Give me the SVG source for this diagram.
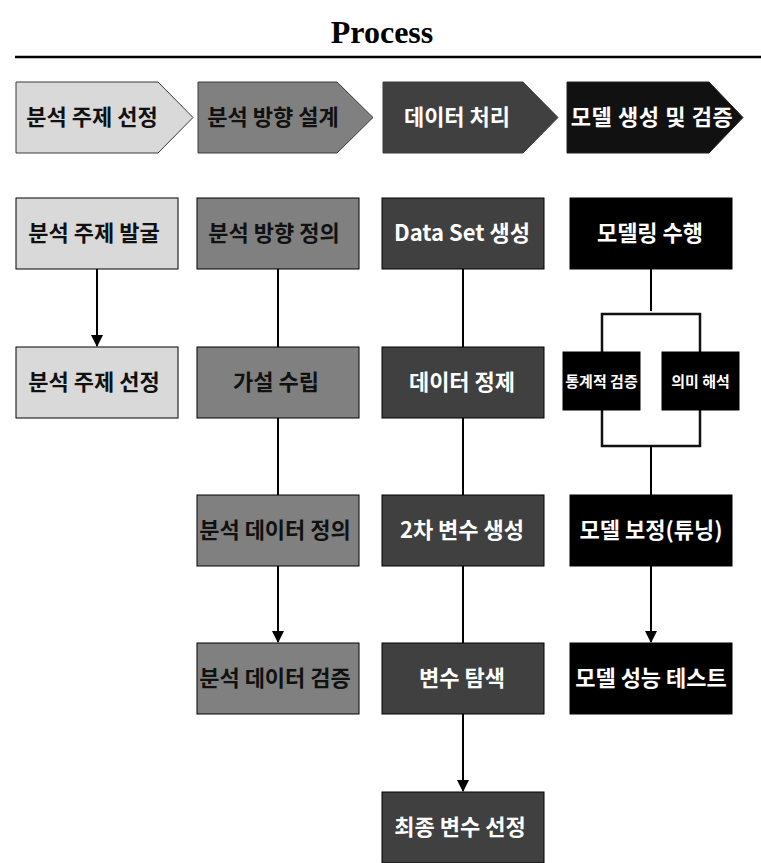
<svg xmlns="http://www.w3.org/2000/svg" width="761" height="863" viewBox="0 0 761 863">
<defs>
<marker id="ah" markerWidth="12" markerHeight="12" refX="11" refY="6" orient="auto" markerUnits="userSpaceOnUse">
<path d="M0,0 L12,6 L0,12 Z" fill="#000"/>
</marker>
<style>
.t{font-family:"Noto Sans CJK KR","Noto Sans",sans-serif;font-weight:bold;font-size:22px;text-anchor:middle}
.s{font-size:15px}
.dk{fill:#111}
.wt{fill:#fff}
.c1{fill:#d9d9d9;stroke:#000;stroke-width:1}
.c2{fill:#808080;stroke:#000;stroke-width:1}
.c3{fill:#404040;stroke:#000;stroke-width:1}
.c4{fill:#000;stroke:#000;stroke-width:1}
.ch{stroke:#3a3a3a;stroke-width:1}
.ln{fill:none;stroke:#000;stroke-width:2}
.br{fill:none;stroke:#111;stroke-width:2.5}
</style>
</defs>
<rect width="761" height="863" fill="#fff"/>
<text x="382" y="43" font-family="'Liberation Serif',serif" font-weight="bold" font-size="32" text-anchor="middle">Process</text>
<line x1="15" y1="57" x2="761" y2="57" stroke="#000" stroke-width="2.5"/>

<g id="ch1"><path class="c1 ch" d="M16,82 H158 L193,117.5 L158,153 H16 Z"/><text class="t dk" x="92" y="125">분석 주제 선정</text></g>
<g id="ch2"><path class="c2 ch" d="M198,82 H337 L373,117.5 L337,153 H198 Z"/><text class="t dk" x="273" y="125">분석 방향 설계</text></g>
<g id="ch3"><path class="c3 ch" d="M383,82 H523 L558,117.5 L523,153 H383 Z"/><text class="t wt" x="457" y="125">데이터 처리</text></g>
<g id="ch4"><path d="M567,82 H709 L743,117.5 L709,153 H567 Z" fill="#111" stroke="#222" stroke-width="1"/><text class="t wt" x="652" y="125" letter-spacing="0.6">모델 생성 및 검증</text></g>

<g id="connectors">
<line class="ln" x1="97" y1="269" x2="97" y2="346" marker-end="url(#ah)"/>
<line class="ln" x1="278" y1="269" x2="278" y2="347"/>
<line class="ln" x1="278" y1="417" x2="278" y2="495"/>
<line class="ln" x1="278" y1="566" x2="278" y2="642" marker-end="url(#ah)"/>
<line class="ln" x1="463" y1="269" x2="463" y2="347"/>
<line class="ln" x1="463" y1="417" x2="463" y2="495"/>
<line class="ln" x1="463" y1="566" x2="463" y2="643"/>
<line class="ln" x1="463" y1="714" x2="463" y2="791" marker-end="url(#ah)"/>
<line class="ln" x1="651" y1="269" x2="651" y2="311"/>
<path class="br" d="M602,352 V314 H700 V352"/>
<path class="br" d="M602,410 V446 H700 V410"/>
<line class="ln" x1="651" y1="446" x2="651" y2="495"/>
<line class="ln" x1="651" y1="566" x2="651" y2="642" marker-end="url(#ah)"/>
</g>

<g id="n1"><rect class="c1" x="16" y="198" width="162" height="71"/><text class="t dk" x="94" y="241">분석 주제 발굴</text></g>
<g id="n2"><rect class="c1" x="16" y="347" width="162" height="71"/><text class="t dk" x="94" y="390">분석 주제 선정</text></g>

<g id="n3"><rect class="c2" x="197" y="198" width="162" height="71"/><text class="t dk" x="274" y="241">분석 방향 정의</text></g>
<g id="n4"><rect class="c2" x="197" y="347" width="162" height="71"/><text class="t dk" x="276" y="390">가설 수립</text></g>
<g id="n5"><rect class="c2" x="197" y="495" width="162" height="71"/><text class="t dk" x="275" y="538">분석 데이터 정의</text></g>
<g id="n6"><rect class="c2" x="197" y="643" width="162" height="71"/><text class="t dk" x="275" y="686">분석 데이터 검증</text></g>

<g id="n7"><rect class="c3" x="382" y="198" width="162" height="71"/><text class="t wt" x="462" y="241">Data Set 생성</text></g>
<g id="n8"><rect class="c3" x="382" y="347" width="162" height="71"/><text class="t wt" x="462" y="390">데이터 정제</text></g>
<g id="n9"><rect class="c3" x="382" y="495" width="162" height="71"/><text class="t wt" x="462" y="538">2차 변수 생성</text></g>
<g id="n10"><rect class="c3" x="382" y="643" width="162" height="71"/><text class="t wt" x="462" y="686">변수 탐색</text></g>
<g id="n11"><rect class="c3" x="382" y="792" width="162" height="71"/><text class="t wt" x="460" y="835">최종 변수 선정</text></g>

<g id="n12"><rect class="c4" x="570" y="198" width="162" height="71"/><text class="t wt" x="650" y="241">모델링 수행</text></g>
<g id="n13"><rect class="c4" x="563" y="352" width="77" height="58"/><text class="t s wt" x="601.5" y="386.5">통계적 검증</text></g>
<g id="n14"><rect class="c4" x="662" y="352" width="77" height="58"/><text class="t s wt" x="700.5" y="386.5">의미 해석</text></g>
<g id="n15"><rect class="c4" x="570" y="495" width="162" height="71"/><text class="t wt" x="651" y="538">모델 보정(튜닝)</text></g>
<g id="n16"><rect class="c4" x="570" y="643" width="162" height="71"/><text class="t wt" x="651" y="686">모델 성능 테스트</text></g>
</svg>
